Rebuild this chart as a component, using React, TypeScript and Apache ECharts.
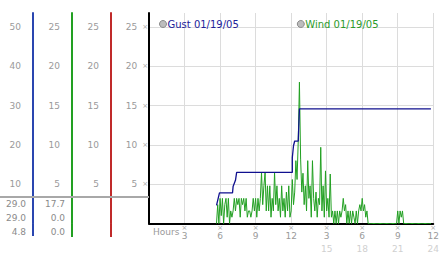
import React, { useEffect, useRef } from "react";
import * as echarts from "echarts";

// ---- data ----
const gustName = "Gust 01/19/05";
const windName = "Wind 01/19/05";

const gustHours = [5.7, 5.95, 7.05, 7.1, 7.3, 7.4, 12.1, 12.1, 12.2, 12.3, 12.6, 12.7, 23.8];
const gustValues = [2.3, 3.9, 3.9, 4.7, 5.5, 6.5, 6.5, 8.4, 9.9, 10.5, 10.5, 14.6, 14.6];

const windStartHour = 5.7;
const windStepHour = 0.1;
const windValues = [
  0, 2.4, 0,
  3.2, 1, 3.2, 0, 2.4, 3.2, 0.8, 3.2, 0, 1.6,
  0.8, 1.6, 3.2, 1.6, 3.2, 2.4, 3.2, 0.8, 3.2, 2.4,
  3.2, 1.6, 3.2, 0.8, 1.6, 1.6, 0.8, 1.6, 3.2, 1.6,
  3.2, 0.8, 3.2, 1.6, 3.2, 6.5, 2.4, 4.8, 6.5, 1.6,
  4.8, 1.6, 4.8, 0.8, 3.2, 1.6, 6.5, 2.4, 4.8, 1.6,
  3.2, 0.8, 4.8, 1.6, 3.2, 0.8, 4.0, 1.6, 4.8, 0.8,
  1.6, 5.6, 2.4, 4.0, 8.0, 5.6, 10.5, 18, 8.2, 4.0,
  6.4, 2.4, 4.8, 1.6, 8.0, 3.2, 4.8, 0.8, 8.0, 3.2,
  1.6, 4.0, 0.8, 3.2, 2.4, 9.7, 1.6, 4.8, 0.8, 6.7,
  1.6, 3.2, 0.8, 6.3, 0.8, 1.6, 0, 1.6, 0, 1.6,
  0, 1.6, 0.8, 1.6, 3.2, 1.6, 2.4, 0, 1.6, 0,
  1.6, 0, 1.6, 0.8, 0, 1.6, 0, 1.6, 2.4, 1.6,
  3.2, 1.6, 2.4, 0.8, 1.6, 0, 0, 0, 0, 0,
  0, 0, 0, 0, 0, 0, 0, 0, 0, 0,
  0, 0, 0, 0, 0, 0, 0, 0, 0, 0,
  1.6, 0, 1.6, 0.8, 1.6, 0, 0, 0, 0, 0,
  0, 0, 0, 0, 0, 0, 0, 0, 0, 0,
  0, 0, 0, 0, 0, 0, 0, 0, 0,
];

const tableCol1 = ["29.0", "29.0", "4.8"];
const tableCol2 = ["17.7", "0.0", "0.0"];

const FONT = "DejaVu Sans";
const LABEL = "#9a9a9a";
const BLUE_AXIS = "#2a46b0";
const GREEN_AXIS = "#22a022";
const RED_AXIS = "#c02a2a";
const TICK_GLYPH = "×";

export default function App() {
  const ref = useRef<HTMLDivElement>(null);

  useEffect(() => {
    if (!ref.current) return;
    const chart = echarts.init(ref.current, null, { renderer: "svg" });

    const gustData = gustHours.map((h, i) => [h, gustValues[i]]);
    const windData = windValues.map((v, i) => [
      Math.round((windStartHour + i * windStepHour) * 100) / 100,
      v,
    ]);

    const sideAxis = (offset: number, color: string, max: number, interval: number) => ({
      type: "value",
      position: "left",
      offset,
      min: 0,
      max,
      interval,
      axisLine: { show: true, lineStyle: { color, width: 2, opacity: 1 } },
      axisTick: { show: false },
      splitLine: { show: false },
      axisLabel: {
        show: true,
        margin: 12,
        color: LABEL,
        fontSize: 9,
        fontFamily: FONT,
        showMinLabel: false,
        showMaxLabel: false,
      },
    });

    const tableTexts: any[] = [];
    const pushCol = (col: string[], x: number) =>
      col.forEach((t, i) => {
        tableTexts.push({
          type: "text",
          x,
          y: 204 + i * 14,
          style: {
            text: t,
            fill: "#8a8a8a",
            font: `9px "${FONT}"`,
            textAlign: "right",
            textVerticalAlign: "middle",
          },
        });
      });
    pushCol(tableCol1, 26);
    pushCol(tableCol2, 65);

    const option: any = {
      animation: false,
      backgroundColor: "#ffffff",
      textStyle: { fontFamily: FONT },
      legend: {
        left: 154,
        top: 14,
        itemGap: 58,
        itemWidth: 7,
        itemHeight: 7,
        icon: "circle",
        textStyle: { fontSize: 10, fontFamily: FONT, padding: [0, 0, 0, -4] },
        data: [
          {
            name: gustName,
            textStyle: { color: "#22229a" },
            itemStyle: { color: "#bdbdbd", borderColor: "#8a8a8a", borderWidth: 1 },
          },
          {
            name: windName,
            textStyle: { color: "#2a9a2a" },
            itemStyle: { color: "#bdbdbd", borderColor: "#8a8a8a", borderWidth: 1 },
          },
        ],
      },
      grid: { left: 149, right: 4, top: 13, bottom: 28, containLabel: false },
      xAxis: {
        type: "value",
        min: 0,
        max: 24,
        interval: 3,
        axisLine: { show: true, lineStyle: { color: "#000", width: 2 } },
        axisTick: { show: false },
        splitLine: { show: true, lineStyle: { color: "#dcdcdc", width: 1 } },
        axisLabel: {
          margin: 1,
          showMinLabel: false,
          formatter: (v: number) => {
            const h12 = v > 12 ? v - 12 : v;
            let s = `{g|${TICK_GLYPH}}\n{n|${h12}}`;
            if (v > 12) s += `\n{m|${v}}`;
            return s;
          },
          rich: {
            g: { fontSize: 7, lineHeight: 6, color: "#aaa", fontFamily: FONT },
            n: { fontSize: 9, lineHeight: 10, color: LABEL, fontFamily: FONT },
            m: { fontSize: 9, lineHeight: 16, color: "#d0d0d0", fontFamily: FONT },
          },
        },
      },
      yAxis: [
        {
          type: "value",
          position: "left",
          offset: 0,
          min: 0,
          max: 26.8,
          interval: 5,
          axisLine: { show: true, lineStyle: { color: "#000", width: 2 } },
          axisTick: { show: false },
          splitLine: {
            show: true,
            showMinLine: false,
            showMaxLine: false,
            lineStyle: { color: "#dcdcdc", width: 1 },
          },
          axisLabel: {
            margin: 1,
            showMinLabel: false,
            showMaxLabel: false,
            formatter: (v: number) => `{n|${v}}{g|${TICK_GLYPH}}`,
            rich: {
              n: { fontSize: 9, color: LABEL, fontFamily: FONT },
              g: { fontSize: 7, color: "#aaa", fontFamily: FONT, padding: [0, 0, 0, 5] },
            },
          },
        },
        sideAxis(38, RED_AXIS, 26.8, 5),
        sideAxis(77, GREEN_AXIS, 26.8, 5),
        sideAxis(116, BLUE_AXIS, 53.6, 10),
      ],
      graphic: [
        {
          type: "line",
          shape: { x1: 0, y1: 197, x2: 149, y2: 197 },
          style: { stroke: "#a8a8a8", lineWidth: 2 },
          z: 1,
        },
        {
          type: "line",
          shape: { x1: 33, y1: 224, x2: 33, y2: 236 },
          style: { stroke: BLUE_AXIS, lineWidth: 2 },
        },
        {
          type: "line",
          shape: { x1: 72, y1: 224, x2: 72, y2: 237 },
          style: { stroke: GREEN_AXIS, lineWidth: 2 },
        },
        {
          type: "line",
          shape: { x1: 111, y1: 224, x2: 111, y2: 237 },
          style: { stroke: RED_AXIS, lineWidth: 2 },
        },
        {
          type: "text",
          x: 153,
          y: 232,
          style: {
            text: "Hours",
            fill: LABEL,
            font: `9px "${FONT}"`,
            textAlign: "left",
            textVerticalAlign: "middle",
          },
        },
        ...tableTexts,
      ],
      series: [
        {
          name: windName,
          type: "line",
          yAxisIndex: 0,
          data: windData,
          showSymbol: false,
          symbol: "none",
          lineStyle: { color: "#22a022", width: 1 },
          itemStyle: { color: "#22a022" },
          z: 3,
        },
        {
          name: gustName,
          type: "line",
          yAxisIndex: 0,
          data: gustData,
          showSymbol: false,
          symbol: "none",
          lineStyle: { color: "#10108f", width: 1.3 },
          itemStyle: { color: "#10108f" },
          z: 4,
        },
      ],
    };

    chart.setOption(option);
    return () => chart.dispose();
  }, []);

  return (
    <div
      ref={ref}
      style={{ width: 442, height: 253, position: "fixed", left: 0, top: 0, background: "#fff" }}
    />
  );
}
